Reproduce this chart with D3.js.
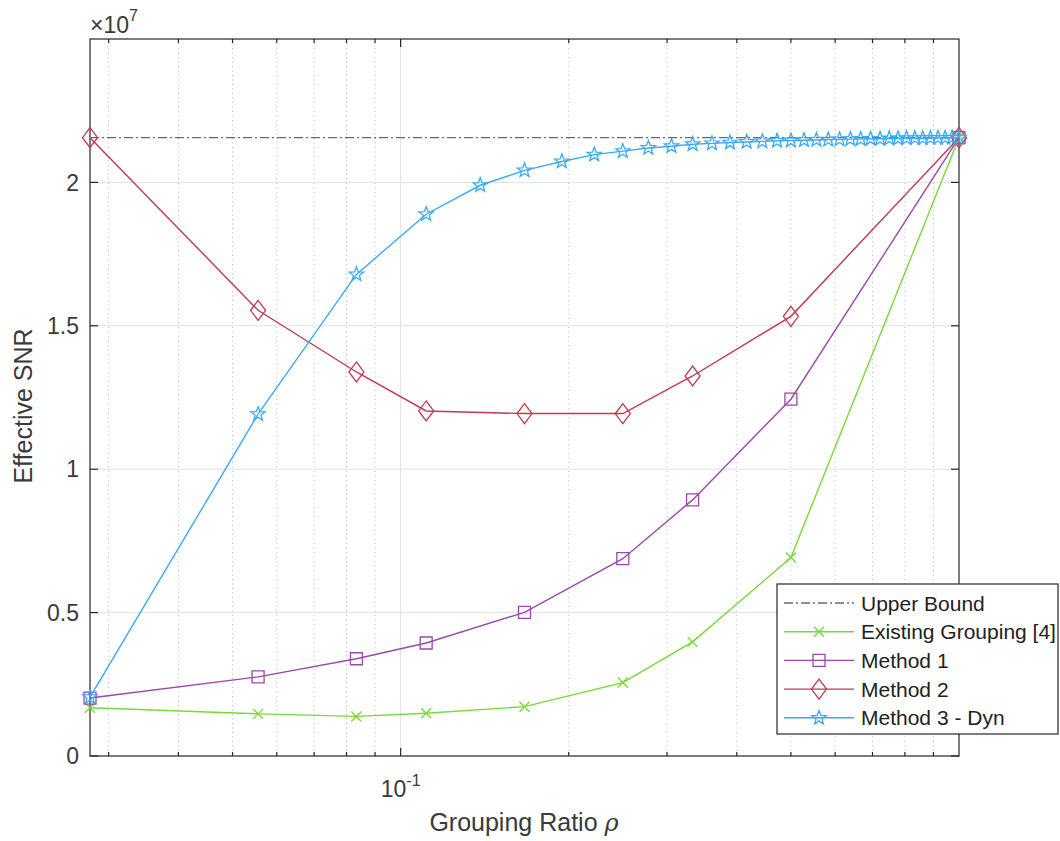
<!DOCTYPE html>
<html>
<head>
<meta charset="utf-8">
<script src="https://cdn.jsdelivr.net/npm/d3@7"></script>
<style>
  html, body { margin: 0; padding: 0; background: #fff; }
  svg { display: block; font-family: "Liberation Sans", Arial, Helvetica, sans-serif; }
</style>
</head>
<body>
<svg id="chart" width="1060" height="841"></svg>
<script>
// Number of users; the grouping ratio is (number of groups) / totalUsers
const totalUsers = 36;

// Group counts evaluated by the fixed-grouping schemes
const groupCounts = [1, 2, 3, 4, 6, 9, 12, 18, 36];
// Group counts evaluated by the dynamic scheme
const dynGroupCounts = d3.range(1, 37);

// Effective SNR values, in units of 1e7
const upperBound = 2.156;
const existingGrouping = [0.168, 0.147, 0.138, 0.149, 0.172, 0.256, 0.398, 0.692, 2.156];
const method1 = [0.202, 0.276, 0.339, 0.394, 0.501, 0.688, 0.893, 1.244, 2.156];
const method2 = [2.156, 1.554, 1.339, 1.203, 1.194, 1.194, 1.325, 1.533, 2.156];
const method3Dyn = [0.205, 1.192, 1.679, 1.889, 1.990, 2.042, 2.073, 2.097, 2.109, 2.120,
                    2.126, 2.133, 2.136, 2.139, 2.141, 2.143, 2.145, 2.146, 2.147, 2.148,
                    2.149, 2.150, 2.151, 2.151, 2.152, 2.152, 2.153, 2.153, 2.154, 2.154,
                    2.154, 2.155, 2.155, 2.155, 2.156, 2.156];

// Axis ticks
const yTicks = [0, 0.5, 1, 1.5, 2];
const yTickLabels = ["0", "0.5", "1", "1.5", "2"];
const xMajorTicks = [0.1];
const xMinorTicks = [0.03, 0.04, 0.05, 0.06, 0.07, 0.08, 0.09, 0.2, 0.3, 0.4, 0.5, 0.6, 0.7, 0.8, 0.9];

const legendLabels = ["Upper Bound", "Existing Grouping [4]", "Method 1", "Method 2", "Method 3 - Dyn"];

const colors = {
  bound: "#6b6b6b",
  existing: "#77d93a",
  m1: "#9a48aa",
  m2: "#bf3a52",
  m3: "#3aaaf7",
  axis: "#262626",
  text: "#3a3a3a"
};

const svg = d3.select("#chart");
const plotLeft = 90, plotRight = 959, plotTop = 39, plotBottom = 756;

const x = d3.scaleLog().domain([1 / totalUsers, 1]).range([plotLeft, plotRight]);
const y = d3.scaleLinear().domain([0, 2.5]).range([plotBottom, plotTop]);

// grid
const grid = svg.append("g");
grid.selectAll("line.minor").data(xMinorTicks).join("line")
  .attr("x1", d => x(d)).attr("x2", d => x(d))
  .attr("y1", plotTop).attr("y2", plotBottom)
  .attr("stroke", "#b9b9b9").attr("stroke-width", 1)
  .attr("stroke-dasharray", "1,3.5");
grid.selectAll("line.xmaj").data(xMajorTicks).join("line")
  .attr("x1", d => x(d)).attr("x2", d => x(d))
  .attr("y1", plotTop).attr("y2", plotBottom)
  .attr("stroke", "#e1e1e1").attr("stroke-width", 1);
grid.selectAll("line.ymaj").data(yTicks.filter(d => d > 0)).join("line")
  .attr("x1", plotLeft).attr("x2", plotRight)
  .attr("y1", d => y(d)).attr("y2", d => y(d))
  .attr("stroke", "#e1e1e1").attr("stroke-width", 1);

// axes box and inward ticks
const axes = svg.append("g").attr("stroke", colors.axis).attr("stroke-width", 1.2);
axes.append("rect").attr("x", plotLeft).attr("y", plotTop)
  .attr("width", plotRight - plotLeft).attr("height", plotBottom - plotTop).attr("fill", "none");
yTicks.forEach(t => {
  axes.append("line").attr("x1", plotLeft).attr("x2", plotLeft + 8).attr("y1", y(t)).attr("y2", y(t));
  axes.append("line").attr("x1", plotRight).attr("x2", plotRight - 8).attr("y1", y(t)).attr("y2", y(t));
});
xMinorTicks.forEach(t => {
  axes.append("line").attr("x1", x(t)).attr("x2", x(t)).attr("y1", plotBottom).attr("y2", plotBottom - 4);
  axes.append("line").attr("x1", x(t)).attr("x2", x(t)).attr("y1", plotTop).attr("y2", plotTop + 4);
});
xMajorTicks.forEach(t => {
  axes.append("line").attr("x1", x(t)).attr("x2", x(t)).attr("y1", plotBottom).attr("y2", plotBottom - 8);
  axes.append("line").attr("x1", x(t)).attr("x2", x(t)).attr("y1", plotTop).attr("y2", plotTop + 8);
});

// tick labels
svg.append("g").selectAll("text").data(yTicks).join("text")
  .attr("x", plotLeft - 11).attr("y", d => y(d)).attr("dy", "0.36em")
  .attr("text-anchor", "end").attr("font-size", 23).attr("fill", colors.text)
  .text((d, i) => yTickLabels[i]);

xMajorTicks.forEach(t => {
  const tl = svg.append("text").attr("x", x(t)).attr("y", plotBottom + 41)
    .attr("text-anchor", "middle").attr("font-size", 23).attr("fill", colors.text);
  tl.append("tspan").text("10");
  tl.append("tspan").attr("font-size", 16).attr("dy", -11).text("-1");
});

// exponent marker
const ex = svg.append("text").attr("x", plotLeft).attr("y", 33)
  .attr("font-size", 23).attr("fill", colors.text);
ex.append("tspan").text("\u00d710");
ex.append("tspan").attr("font-size", 16).attr("dy", -12).text("7");

// axis titles
const xl = svg.append("text").attr("x", 524).attr("y", 831)
  .attr("text-anchor", "middle").attr("font-size", 25).attr("fill", colors.text);
xl.append("tspan").text("Grouping Ratio ");
xl.append("tspan").attr("font-family", "'DejaVu Serif', 'Liberation Serif', serif")
  .attr("font-style", "italic").attr("font-size", 24).text("\u03c1");

svg.append("text").attr("transform", "translate(32,406) rotate(-90)")
  .attr("text-anchor", "middle").attr("font-size", 25).attr("fill", colors.text)
  .text("Effective SNR");

// markers
function markerPath(kind) {
  if (kind === "x") return "M-5,-5L5,5M-5,5L5,-5";
  if (kind === "square") return "M-6,-6H6V6H-6Z";
  if (kind === "diamond") return "M0,-10L7.5,0L0,10L-7.5,0Z";
  if (kind === "star") {
    const pts = [];
    for (let i = 0; i < 10; i++) {
      const r = i % 2 === 0 ? 7.5 : 3.1;
      const a = -Math.PI / 2 + i * Math.PI / 5;
      pts.push([r * Math.cos(a), r * Math.sin(a)]);
    }
    return "M" + pts.map(p => p[0].toFixed(2) + "," + p[1].toFixed(2)).join("L") + "Z";
  }
  return "";
}

const line = d3.line().x(d => x(d[0])).y(d => y(d[1]));

const seriesList = [
  { counts: groupCounts, values: existingGrouping, color: colors.existing, marker: "x" },
  { counts: groupCounts, values: method1, color: colors.m1, marker: "square" },
  { counts: groupCounts, values: method2, color: colors.m2, marker: "diamond" },
  { counts: dynGroupCounts, values: method3Dyn, color: colors.m3, marker: "star" }
];

// upper bound
svg.append("line")
  .attr("x1", x(1 / totalUsers)).attr("x2", x(1))
  .attr("y1", y(upperBound)).attr("y2", y(upperBound))
  .attr("stroke", colors.bound).attr("stroke-width", 1.3)
  .attr("stroke-dasharray", "9,3,2,3");

seriesList.forEach(s => {
  const pts = s.counts.map((c, i) => [c / totalUsers, s.values[i]]);
  const g = svg.append("g");
  g.append("path").datum(pts).attr("d", line)
    .attr("fill", "none").attr("stroke", s.color).attr("stroke-width", 1.4);
  g.selectAll("path.m").data(pts).join("path")
    .attr("transform", d => `translate(${x(d[0])},${y(d[1])})`)
    .attr("d", markerPath(s.marker))
    .attr("fill", "none").attr("stroke", s.color).attr("stroke-width", 1.3);
});

// legend
const lg = svg.append("g");
lg.append("rect").attr("x", 777).attr("y", 584).attr("width", 281).attr("height", 150)
  .attr("fill", "#fff").attr("stroke", colors.axis).attr("stroke-width", 1.2);
const legendItems = [
  { color: colors.bound, marker: null, dash: "9,3,2,3" },
  { color: colors.existing, marker: "x" },
  { color: colors.m1, marker: "square" },
  { color: colors.m2, marker: "diamond" },
  { color: colors.m3, marker: "star" }
];
legendItems.forEach((it, i) => {
  const cy = 603 + i * 28.7;
  lg.append("line").attr("x1", 784).attr("x2", 854).attr("y1", cy).attr("y2", cy)
    .attr("stroke", it.color).attr("stroke-width", 1.4)
    .attr("stroke-dasharray", it.dash || null);
  if (it.marker) {
    lg.append("path").attr("transform", `translate(819,${cy})`)
      .attr("d", markerPath(it.marker)).attr("fill", "none")
      .attr("stroke", it.color).attr("stroke-width", 1.3);
  }
  lg.append("text").attr("x", 861).attr("y", cy).attr("dy", "0.36em")
    .attr("font-size", 21).attr("fill", "#222").text(legendLabels[i]);
});
</script>
</body>
</html>
